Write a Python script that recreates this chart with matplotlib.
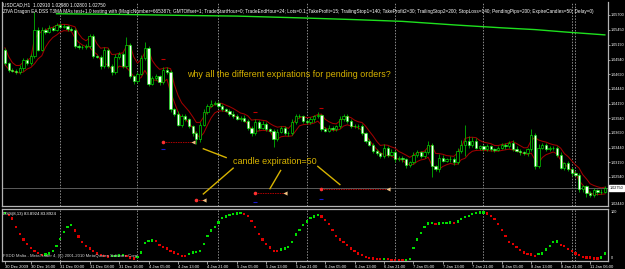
import pandas as pd
import matplotlib
matplotlib.use("Agg")
import matplotlib.pyplot as plt

plt.rcParams["font.family"] = ["Liberation Sans", "DejaVu Sans"]

# ---- USDCAD H1 bars (bar 0 = 30 Dec 2009) ----
closes = [
    1.0488, 1.0477, 1.0475, 1.0473, 1.0480, 1.0494, 1.0488, 1.0500, 1.0545, 1.0511,
    1.0545, 1.0541, 1.0548, 1.0545, 1.0553, 1.0550, 1.0551, 1.0546, 1.0545, 1.0517,
    1.0516, 1.0515, 1.0517, 1.0534, 1.0500, 1.0499, 1.0483, 1.0511, 1.0483, 1.0473,
    1.0499, 1.0504, 1.0483, 1.0519, 1.0466, 1.0458, 1.0470, 1.0497, 1.0514, 1.0453,
    1.0463, 1.0466, 1.0456, 1.0477, 1.0473, 1.0409, 1.0402, 1.0383, 1.0398, 1.0392,
    1.0381, 1.0369, 1.0358, 1.0383, 1.0405, 1.0415, 1.0419, 1.0420, 1.0415, 1.0410,
    1.0407, 1.0402, 1.0398, 1.0393, 1.0395, 1.0390, 1.0378, 1.0368, 1.0388, 1.0378,
    1.0385, 1.0376, 1.0373, 1.0359, 1.0371, 1.0378, 1.0368, 1.0369, 1.0388, 1.0398,
    1.0397, 1.0390, 1.0388, 1.0392, 1.0397, 1.0400, 1.0376, 1.0373, 1.0378, 1.0376,
    1.0380, 1.0392, 1.0398, 1.0390, 1.0381, 1.0380, 1.0381, 1.0369, 1.0356, 1.0349,
    1.0339, 1.0334, 1.0330, 1.0344, 1.0332, 1.0337, 1.0325, 1.0327, 1.0324, 1.0315,
    1.0319, 1.0332, 1.0336, 1.0330, 1.0336, 1.0348, 1.0312, 1.0308, 1.0327, 1.0322,
    1.0324, 1.0325, 1.0319, 1.0339, 1.0349, 1.0356, 1.0349, 1.0356, 1.0344, 1.0346,
    1.0342, 1.0346, 1.0341, 1.0340, 1.0344, 1.0348, 1.0346, 1.0351, 1.0342, 1.0339,
    1.0336, 1.0334, 1.0341, 1.0365, 1.0313, 1.0344, 1.0348, 1.0342, 1.0344, 1.0343,
    1.0332, 1.0310, 1.0317, 1.0308, 1.0300, 1.0298, 1.0273, 1.0278, 1.0266, 1.0263,
    1.0271, 1.0268, 1.0269, 1.0275,
]
first_open = 1.0511
upper_wick_pips = [
    3, 2, 2, 3, 4, 3, 2, 4, 30, 4,
    5, 3, 4, 3, 4, 3, 3, 2, 3, 2,
    3, 2, 3, 4, 3, 2, 3, 5, 2, 3,
    4, 3, 2, 14, 3, 2, 3, 5, 10, 3,
    3, 4, 2, 4, 5, 3, 2, 4, 3, 4,
    3, 2, 3, 4, 5, 4, 6, 3, 4, 3,
    2, 3, 4, 3, 2, 4, 3, 2, 5, 3,
    4, 3, 2, 3, 4, 3, 2, 3, 5, 4,
    3, 2, 3, 4, 3, 5, 2, 3, 4, 3,
    3, 5, 4, 3, 2, 3, 3, 4, 2, 3,
    3, 2, 3, 6, 3, 4, 3, 2, 3, 2,
    3, 5, 4, 3, 4, 8, 3, 2, 6, 4,
    3, 4, 3, 5, 8, 27, 8, 6, 4, 3,
    3, 4, 3, 2, 3, 4, 3, 5, 6, 4,
    3, 2, 3, 10, 4, 6, 4, 3, 3, 2,
    3, 4, 3, 4, 3, 4, 3, 3, 2, 4,
    4, 3, 4, 3,
]
lower_wick_pips = [
    3, 4, 3, 4, 3, 5, 3, 4, 4, 3,
    3, 4, 2, 3, 3, 2, 3, 4, 3, 3,
    4, 3, 3, 3, 4, 3, 5, 3, 4, 5,
    3, 4, 4, 3, 4, 5, 4, 3, 3, 4,
    3, 4, 5, 3, 4, 4, 5, 3, 4, 3,
    4, 5, 8, 4, 3, 3, 2, 3, 4, 3,
    3, 4, 3, 2, 4, 3, 4, 5, 3, 4,
    3, 4, 3, 14, 4, 3, 3, 5, 4, 3,
    3, 4, 3, 3, 4, 3, 4, 3, 3, 4,
    3, 2, 3, 4, 3, 3, 4, 3, 5, 3,
    4, 3, 4, 3, 4, 3, 5, 3, 4, 6,
    4, 3, 4, 3, 4, 3, 18, 4, 5, 3,
    3, 4, 5, 3, 4, 20, 5, 4, 3, 4,
    3, 4, 3, 3, 2, 3, 4, 3, 4, 3,
    4, 3, 4, 3, 6, 4, 3, 3, 4, 3,
    4, 3, 5, 4, 4, 3, 5, 4, 6, 4,
    3, 4, 3, 3,
]

# long moving average (green line at the top)
ma_long_bars = [14, 30, 50, 63, 80, 95, 108, 122, 135, 144, 152, 163]
ma_long_vals = [1.0572, 1.0571, 1.0569, 1.0568, 1.0565, 1.0562,
                1.0559, 1.0553, 1.0548, 1.0545, 1.0541, 1.0536]

# DSS(8,13) indicator values
dss = [
    99.0, 94.9, 87.4, 70.3, 55.3, 43.6, 34.8, 25.9, 19.1, 15.6,
    11.6, 12.2, 14.3, 19.8, 30.0, 45.0, 58.7, 68.9, 73.7, 62.1,
    49.8, 38.2, 30.0, 24.5, 19.1, 14.3, 10.9, 8.8, 8.1, 8.8,
    9.5, 10.2, 10.9, 8.8, 6.0, 4.0, 7.4, 16.3, 36.8, 40.2,
    41.6, 40.2, 32.7, 27.9, 24.5, 19.8, 16.3, 12.9, 9.5, 8.8,
    12.9, 16.3, 17.7, 19.8, 34.8, 50.5, 62.1, 70.3, 79.2, 88.0,
    91.5, 94.2, 96.2, 97.6, 98.3, 96.2, 92.8, 82.6, 68.9, 55.3,
    43.6, 34.8, 26.6, 19.8, 19.1, 22.5, 24.5, 27.9, 38.2, 53.9,
    63.5, 74.4, 81.2, 88.0, 91.5, 94.2, 91.5, 84.6, 75.8, 64.1,
    50.5, 43.6, 38.2, 31.4, 24.5, 19.1, 14.3, 10.9, 7.4, 5.4,
    4.0, 2.6, 2.0, 2.6, 2.0, 0.8, 0.6, 0.5, 0.4, 0.6,
    3.3, 25.9, 43.6, 57.3, 68.9, 77.1, 77.8, 75.8, 77.1, 77.3,
    77.5, 79.2, 77.8, 81.2, 86.0, 90.8, 92.8, 96.2, 98.3, 99.7,
    99.8, 97.6, 92.8, 86.0, 75.8, 64.1, 50.5, 38.2, 34.8, 27.9,
    21.2, 16.3, 12.9, 12.2, 8.8, 12.9, 14.3, 22.5, 30.0, 38.2,
    39.5, 31.4, 30.0, 23.2, 19.8, 14.3, 10.9, 7.4, 6.0, 5.7,
    4.0, 3.7, 6.0, 14.3,
]

price_ticks = [1.05700, 1.05450, 1.05190, 1.04940, 1.04690, 1.04440,
               1.04190, 1.03940, 1.03690, 1.03440, 1.03190, 1.02940]
price_bottom = 1.02440
bid = 1.02750

time_tick_bars = [0, 7, 15, 23, 31, 39, 47, 55, 63, 71, 79,
                  87, 95, 103, 111, 119, 127, 135, 143, 151, 159]
time_tick_labels = ["30 Dec 2009", "30 Dec 16:00", "31 Dec 00:00", "31 Dec 08:00",
                    "31 Dec 16:00", "4 Jan 05:00", "4 Jan 13:00", "4 Jan 21:00",
                    "5 Jan 05:00", "5 Jan 13:00", "5 Jan 21:00", "6 Jan 05:00",
                    "6 Jan 13:00", "6 Jan 21:00", "7 Jan 05:00", "7 Jan 13:00",
                    "7 Jan 21:00", "8 Jan 05:00", "8 Jan 13:00", "8 Jan 21:00",
                    "11 Jan 06:00"]
separator_bars = [15, 36, 58, 82, 106, 130, 154, 155]

# pending orders: placed bar, expiry bar, price
order_start = [43, 52, 68, 86]
order_end = [51, 54, 76, 104]
order_price = [1.0354, 1.0254, 1.0266, 1.0273]
sl_bars = [43, 68, 86]
sl_prices = [1.0341, 1.0251, 1.0257]
tp_bars = [43, 68, 86]
tp_prices = [1.0495, 1.0405, 1.0412]

# yellow pointer lines (bar, price) -> (bar, price)
ann_x0 = [53.9, 62.0, 74.9, 85.0]
ann_y0 = [1.0342, 1.0309, 1.0305, 1.0312]
ann_x1 = [60.1, 53.9, 72.0, 91.0]
ann_y1 = [1.0327, 1.0265, 1.0274, 1.0281]

# ---- derived OHLC ----
opens = [first_open] + closes[:-1]
highs = [max(o, c) + u * 0.0001 for o, c, u in zip(opens, closes, upper_wick_pips)]
lows = [min(o, c) - d * 0.0001 for o, c, d in zip(opens, closes, lower_wick_pips)]
bars = list(range(len(closes)))
env_hi = pd.Series(highs).ewm(span=4).mean()
env_lo = pd.Series(lows).ewm(span=4).mean()

W, H = 625, 269
fig = plt.figure(figsize=(W / 100, H / 100), dpi=100, facecolor="black")
ax = fig.add_axes([2 / W, 63 / H, 606 / W, 204 / H], facecolor="black")
ax2 = fig.add_axes([2 / W, 8 / H, 606 / W, 52 / H], facecolor="black", sharex=ax)

grid_c = "#8c8c8c"
axis_c = "#b4b4b4"
for a in (ax, ax2):
    for b in separator_bars:
        a.axvline(b, color=grid_c, lw=0.7, ls=(0, (1.5, 1.5)), zorder=1)
    for s in ("left", "right", "bottom", "top"):
        a.spines[s].set_color(axis_c)
        a.spines[s].set_linewidth(0.9)
ax.spines["top"].set_visible(False)

# candles
ax.vlines(bars, lows, highs, color="#00b400", lw=0.6, zorder=3)
body_lo = [min(o, c) for o, c in zip(opens, closes)]
body_h = [max(abs(c - o), 0.00005) for o, c in zip(opens, closes)]
fills = ["white" if c < o else "black" for o, c in zip(opens, closes)]
ax.bar(bars, body_h, bottom=body_lo, width=0.62, color=fills,
       edgecolor="#00ff00", linewidth=0.4, zorder=4)

# envelope and long MA
ax.plot(bars, env_hi, color="#a00000", lw=0.75, zorder=2)
ax.plot(bars, env_lo, color="#a00000", lw=0.75, zorder=2)
ax.plot(ma_long_bars, ma_long_vals, color="#1ee01e", lw=1.0, zorder=2)

# bid line
ax.axhline(bid, color="#6a6a6a", lw=0.6, zorder=1)

# pending orders
for s, e, p in zip(order_start, order_end, order_price):
    ax.plot([s, e], [p, p], color="#b00000", lw=0.7, ls=(0, (1.5, 1)), zorder=5)
ax.plot(order_start, order_price, "o", color="#ff3030", ms=2.6,
        markeredgewidth=0, zorder=6)
ax.plot(order_end, order_price, "<", color="#f0c080", ms=3,
        markeredgewidth=0, zorder=6)
ax.plot(sl_bars, sl_prices, "_", color="#1a1ad0", ms=3, mew=0.8, zorder=6)
ax.plot(tp_bars, tp_prices, "_", color="#c00000", ms=3, mew=0.8, zorder=6)

gold = "#d8b400"
for x0, y0, x1, y1 in zip(ann_x0, ann_y0, ann_x1, ann_y1):
    ax.plot([x0, x1], [y0, y1], color=gold, lw=1.0, zorder=7)
ax.text(49.4, 1.0468, "why all the different expirations for pending orders?",
        color=gold, fontsize=6.4, va="center", ha="left", zorder=8)
ax.text(61.9, 1.0321, "candle expiration=50", color=gold, fontsize=6.5,
        va="center", ha="left", zorder=8)

# price scale
ax.set_xlim(-0.815, 163.86)
ax.set_ylim(1.02445, 1.0592)
ax.yaxis.tick_right()
ax.set_yticks(price_ticks)
ax.set_yticklabels([f"{p:.5f}" for p in price_ticks])
ax.tick_params(axis="y", colors=axis_c, labelcolor="white", labelsize=2.7,
               length=1.5, width=0.6, pad=0.6)
ax.tick_params(axis="x", bottom=False, labelbottom=False)
ax.text(1.004, price_bottom, f"{price_bottom:.5f}", transform=ax.get_yaxis_transform(),
        color="white", fontsize=2.7, va="bottom", ha="left")
ax.text(1.003, bid, f"{bid:.5f}", transform=ax.get_yaxis_transform(),
        color="black", fontsize=2.7, va="center", ha="left",
        bbox=dict(boxstyle="square,pad=0.2", fc="white", ec="white"))

# DSS panel
dss_colors = ["#00dd00" if i == 0 or dss[i] >= dss[i - 1] else "#e00000"
              for i in range(len(dss))]
ax2.scatter(bars, dss, c=dss_colors, marker="s", s=2.6, linewidths=0, zorder=3)
ax2.set_ylim(-1.4, 107.2)
ax2.yaxis.tick_right()
ax2.set_yticks([])
ax2.text(1.004, 100, "100", transform=ax2.get_yaxis_transform(),
         color="white", fontsize=2.7, va="center", ha="left")
ax2.text(1.004, 0, "0", transform=ax2.get_yaxis_transform(),
         color="white", fontsize=2.7, va="bottom", ha="left")
ax2.set_xticks(time_tick_bars)
ax2.set_xticklabels(time_tick_labels)
for lbl in ax2.get_xticklabels():
    lbl.set_ha("left")
ax2.tick_params(axis="x", colors=axis_c, labelcolor="white", labelsize=3,
                length=2, width=0.6, pad=1)
ax2.text(0.002, 0.9, "DSS(8,13) 83.8924 83.8924", transform=ax2.transAxes,
         color="white", fontsize=3.1, va="center", ha="left", zorder=5)
ax2.text(0.002, 0.1, "FXDD Malta - MetaTrader 4, (C) 2001-2010 MetaQuotes Software Corp.",
         transform=ax2.transAxes, color="#d0d0d0", fontsize=3.1, va="center",
         ha="left", zorder=5)

# chart header
fig.text(3 / W, 1 - 5 / H, "USDCAD,H1  1.02910 1.02980 1.02800 1.02750",
         color="white", fontsize=3.4, va="center", ha="left")
fig.text(3 / W, 1 - 11 / H,
         "ZIVA Dragon EA DSS T3MA MAs test+1.0 testing with (MagicNumber=665387t; "
         "GMTOffset=1; TradeStartHour=0; TradeEndHour=24; Lots=0.1; TakeProfit=15; "
         "TrailingStop1=140; TakeProfit2=30; TrailingStop2=200; StopLoss=140; "
         "PendingPips=200; ExpireCandles=50; Delay=0)",
         color="white", fontsize=3.4, va="center", ha="left")

fig.savefig("out.png", dpi=100, facecolor="black")
